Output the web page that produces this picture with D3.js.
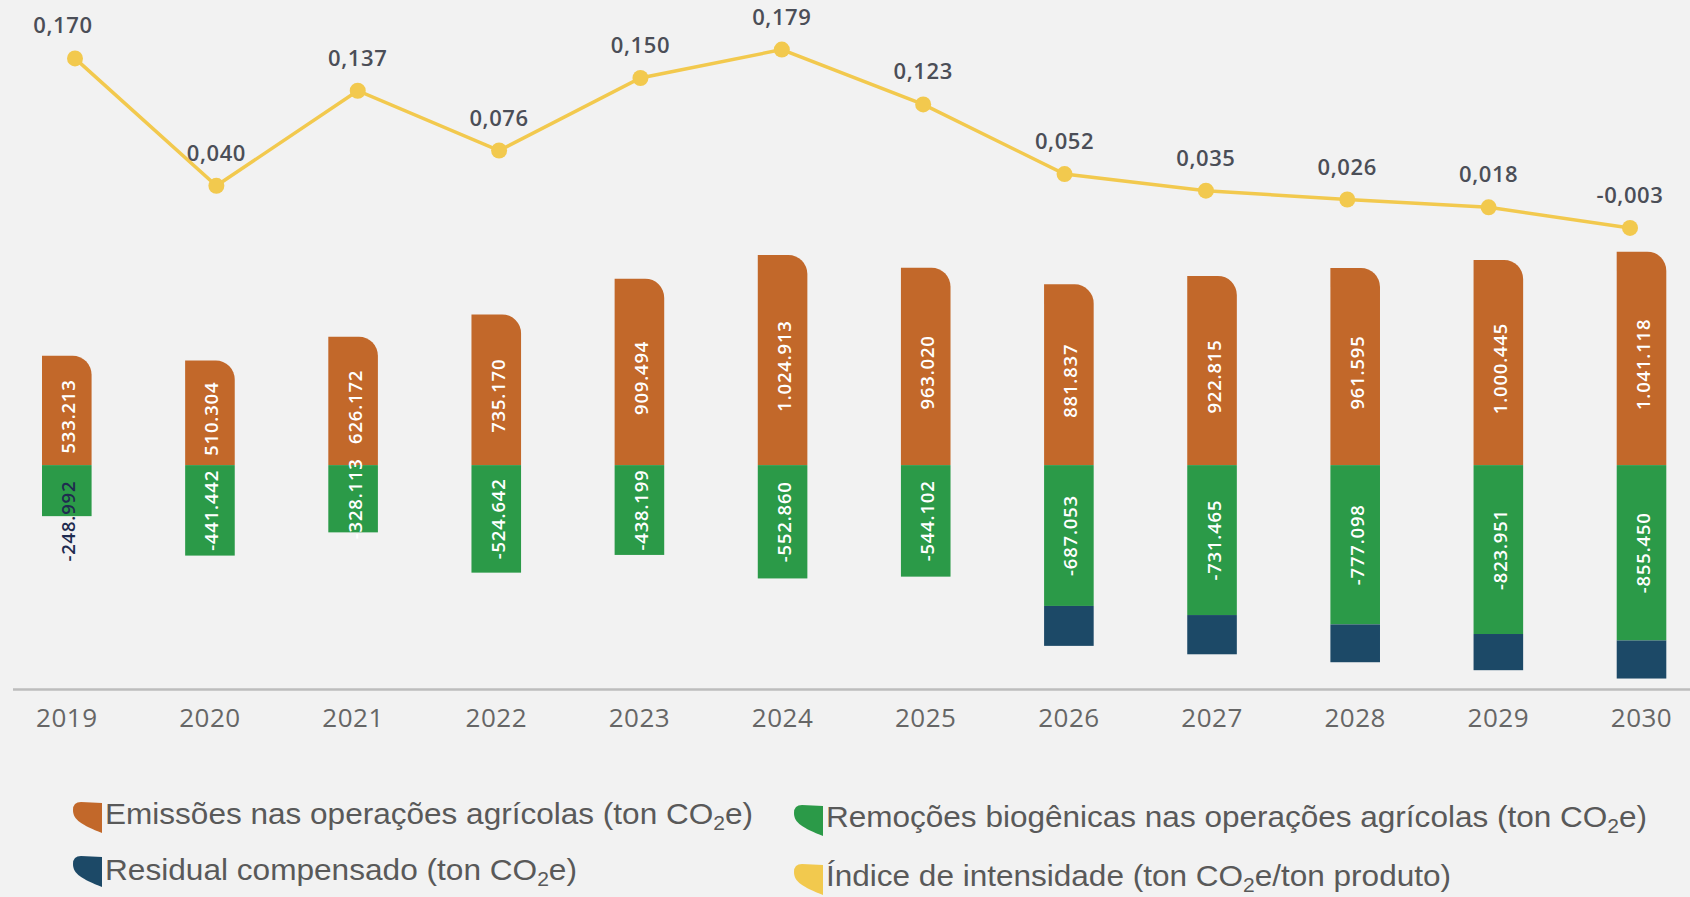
<!DOCTYPE html>
<html>
<head>
<meta charset="utf-8">
<script src="https://cdn.jsdelivr.net/npm/d3@7"></script>
<style>
  html, body { margin: 0; padding: 0; background: #f2f2f2; }
  svg { display: block; }
</style>
</head>
<body>
<svg id="chart" width="1690" height="897"></svg>
<script>
// Years on the category axis
const years = ["2019", "2020", "2021", "2022", "2023", "2024", "2025", "2026", "2027", "2028", "2029", "2030"];
// Emissions in agricultural operations (ton CO2e)
const emissions = [533213, 510304, 626172, 735170, 909494, 1024913, 963020, 881837, 922815, 961595, 1000445, 1041118];
// Biogenic removals in agricultural operations (ton CO2e)
const removals = [-248992, -441442, -328113, -524642, -438199, -552860, -544102, -687053, -731465, -777098, -823951, -855450];
// Offset residual (ton CO2e), stacked below the removals
const residual = [0, 0, 0, 0, 0, 0, 0, -194784, -191350, -184497, -176494, -185668];
// Intensity index (ton CO2e / ton product)
const intensity = [0.170, 0.040, 0.137, 0.076, 0.150, 0.179, 0.123, 0.052, 0.035, 0.026, 0.018, -0.003];
// Legend entries: [text before subscript, subscript, text after]
const legendLabels = [
  ["Emissões nas operações agrícolas (ton CO", "2", "e)"],
  ["Remoções biogênicas nas operações agrícolas (ton CO", "2", "e)"],
  ["Residual compensado (ton CO", "2", "e)"],
  ["Índice de intensidade (ton CO", "2", "e/ton produto)"]
];

const colors = {
  emissions: "#c2682a",
  removals: "#2b9a48",
  residual: "#1c4967",
  intensity: "#f2c94e",
  valueText: "#4b4e57",
  axisText: "#666666",
  legendText: "#595959"
};

const svg = d3.select("#chart");

const ptBR = d3.formatLocale({ decimal: ",", thousands: ".", grouping: [3], currency: ["R$", ""], minus: "-" });
const fmtInt = ptBR.format(",d");
const fmtIdx = ptBR.format(",.3f");

// Scales
const x = d3.scaleBand().domain(years).range([42, 1666.3]).paddingInner(0.6536).paddingOuter(0);
const xLine = d3.scalePoint().domain(years).range([75, 1630]);
const yBar = d3.scaleLinear().domain([-1000000, 1000000]).range([670.1, 260.1]);
const yLine = d3.scaleLinear().domain([0, 0.2]).range([225, 29]);

const bw = x.bandwidth();
const r = 19;

// Axis baseline
const axisY = 689.5;
svg.append("line")
  .attr("x1", 13).attr("x2", 1690)
  .attr("y1", axisY).attr("y2", axisY)
  .attr("stroke", "#bdbdbd").attr("stroke-width", 2.5);

// Year labels
const xAxis = d3.axisBottom(x).tickSize(0).tickPadding(0);
const gAxis = svg.append("g").attr("transform", `translate(0,${axisY})`).call(xAxis);
gAxis.select(".domain").remove();
gAxis.selectAll("text")
  .attr("y", 37)
  .attr("dy", 0)
  .attr("font-family", "'Open Sans', sans-serif")
  .attr("font-size", 26)
  .attr("letter-spacing", 0.5)
  .attr("fill", colors.axisText);

const rows = years.map((yr, i) => ({ yr, e: emissions[i], rm: removals[i], rs: residual[i] }));

// Emissions bars with rounded top-right corner
svg.append("g").selectAll("path").data(rows).join("path")
  .attr("fill", colors.emissions)
  .attr("d", d => {
    const x0 = x(d.yr), x1 = x0 + bw, y0 = yBar(0), yt = yBar(d.e);
    return `M${x0},${y0}V${yt}H${x1 - r}A${r},${r} 0 0 1 ${x1},${yt + r}V${y0}Z`;
  });

// Removals bars
svg.append("g").selectAll("rect").data(rows).join("rect")
  .attr("fill", colors.removals)
  .attr("x", d => x(d.yr)).attr("width", bw)
  .attr("y", yBar(0))
  .attr("height", d => yBar(d.rm) - yBar(0));

// Residual bars, stacked below removals
svg.append("g").selectAll("rect").data(rows.filter(d => d.rs !== 0)).join("rect")
  .attr("fill", colors.residual)
  .attr("x", d => x(d.yr)).attr("width", bw)
  .attr("y", d => yBar(d.rm))
  .attr("height", d => yBar(d.rm + d.rs) - yBar(d.rm));

// Vertical value labels inside the bars
const labelFont = { family: "'Open Sans', sans-serif", size: 18.5, weight: 600, spacing: 0.8 };
function barLabel(g, cx, cy, text, fill) {
  g.append("text")
    .attr("transform", `translate(${cx},${cy}) rotate(-90)`)
    .attr("text-anchor", "middle")
    .attr("dominant-baseline", "central")
    .attr("font-family", labelFont.family)
    .attr("font-size", labelFont.size)
    .attr("font-weight", labelFont.weight)
    .attr("letter-spacing", labelFont.spacing)
    .attr("fill", fill)
    .text(text);
}
const gLabels = svg.append("g");
rows.forEach(d => {
  const cx = x(d.yr) + bw / 2 + 1;
  const yt = yBar(d.e), y0 = yBar(0), yb = yBar(d.rm);
  barLabel(gLabels, cx, (yt + y0) / 2 + 6, fmtInt(d.e), "#ffffff");
  const h = yb - y0;
  if (h < 60) {
    // Short bar: label hangs below the bar top in a dark colour
    barLabel(gLabels, cx, y0 + 10 + 46, fmtInt(d.rm), "#1f2b4f");
  } else {
    barLabel(gLabels, cx, (y0 + yb) / 2, fmtInt(d.rm), "#ffffff");
  }
});

// Intensity line
const line = d3.line().x((d, i) => xLine(years[i])).y(d => yLine(d));
svg.append("path")
  .datum(intensity)
  .attr("fill", "none")
  .attr("stroke", colors.intensity)
  .attr("stroke-width", 3.5)
  .attr("d", line);

svg.append("g").selectAll("circle").data(intensity).join("circle")
  .attr("cx", (d, i) => xLine(years[i]))
  .attr("cy", d => yLine(d))
  .attr("r", 8)
  .attr("fill", colors.intensity);

svg.append("g").selectAll("text").data(intensity).join("text")
  .attr("x", (d, i) => xLine(years[i]) - (i === 0 ? 12 : 0))
  .attr("y", d => yLine(d) - 25)
  .attr("text-anchor", "middle")
  .attr("font-family", "'Open Sans', sans-serif")
  .attr("font-size", 22)
  .attr("font-weight", 600)
  .attr("letter-spacing", 0.6)
  .attr("fill", colors.valueText)
  .text(d => fmtIdx(d));

// Legend
const leafPath = (x0, y0) => {
  const w = 29, h = 31;
  return `M${x0 + 8},${y0}L${x0 + w},${y0 + 1}L${x0 + w},${y0 + h}` +
    `C${x0 + 9},${y0 + h - 8} ${x0},${y0 + 18} ${x0},${y0 + 8}Q${x0},${y0} ${x0 + 8},${y0}Z`;
};
const legendItems = [
  { label: legendLabels[0], color: colors.emissions, ix: 73, iy: 802, tx: 105, ty: 823.5, w: 648 },
  { label: legendLabels[1], color: colors.removals, ix: 794, iy: 805, tx: 826, ty: 827, w: 821 },
  { label: legendLabels[2], color: colors.residual, ix: 73, iy: 856, tx: 105, ty: 879.5, w: 472 },
  { label: legendLabels[3], color: colors.intensity, ix: 794, iy: 864, tx: 826, ty: 886, w: 625 }
];
const gLegend = svg.append("g");
legendItems.forEach(it => {
  gLegend.append("path").attr("d", leafPath(it.ix, it.iy)).attr("fill", it.color);
  const t = gLegend.append("text")
    .attr("x", it.tx).attr("y", it.ty)
    .attr("font-family", "'Liberation Sans', Arial, sans-serif")
    .attr("font-size", 30)
    .attr("fill", colors.legendText)
    .attr("textLength", it.w)
    .attr("lengthAdjust", "spacingAndGlyphs");
  t.append("tspan").text(it.label[0]);
  t.append("tspan").attr("font-size", 20).attr("dy", 6).text(it.label[1]);
  t.append("tspan").attr("dy", -6).text(it.label[2]);
});
</script>
</body>
</html>
